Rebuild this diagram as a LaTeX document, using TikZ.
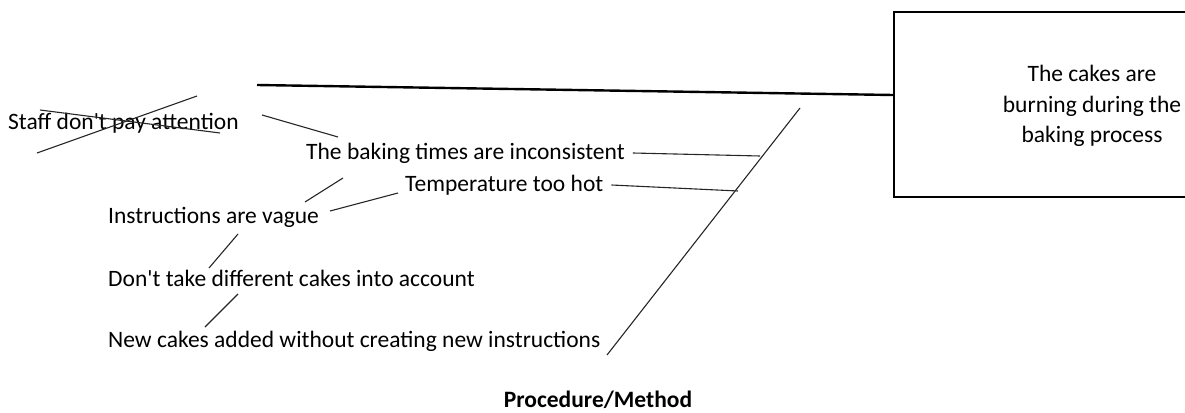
\documentclass[tikz,border=0pt]{standalone}
\usepackage{fontspec}
\setmainfont{Carlito}
\usepackage{tikz}
\usetikzlibrary{positioning}

\tikzset{
    cause/.style={anchor=west, inner sep=0pt, font=\fontsize{23.5}{28}\selectfont},
    bone/.style={draw, line width=1.1pt, black!85}
}

\begin{document}
\begin{tikzpicture}[x=1pt, y=-1pt]
            \useasboundingbox (0, 0) rectangle (1185, 412);
            % effect
            \node[draw, line width=2.2pt, minimum width=300pt, minimum height=185pt, anchor=north west] (effect) at (893, 11) {};
            \node[align=center, font=\fontsize{23.5}{30.5}\selectfont] (effecttext) at (1092, 106) {The cakes are\\ burning during the\\ baking process};
            \coordinate (spinestart) at (257, 85);
            \coordinate (spineend) at (893, 95);
            \draw[line width=2.4pt] (spinestart) -- (spineend);
            % main bone
            \coordinate (bonetop) at (800, 108);
            \coordinate (bonebottom) at (607, 355);
            \draw[bone] (bonetop) -- (bonebottom);
            % causes
            \node[cause] (staff) at (8, 123) {Staff don\textquotesingle t pay attention};
            \node[cause] (baking) at (306, 153) {The baking times are inconsistent};
            \node[cause] (temp) at (405, 185) {Temperature too hot};
            \node[cause] (vague) at (108, 217) {Instructions are vague};
            \node[cause] (different) at (108, 278) {Don\textquotesingle t take different cakes into account};
            \node[cause] (newcakes) at (108, 341) {New cakes added without creating new instructions};
            \node[font=\fontsize{23.5}{28}\selectfont\bfseries, inner sep=0pt] (category) at (598, 400) {Procedure/Method};
            % branches
            \coordinate (bakingjoin) at (760, 156);
            \coordinate (tempjoin) at (738, 191);
            \draw[bone] ([xshift=8pt]baking.east) -- (bakingjoin);
            \draw[bone] ([xshift=8pt]temp.east) -- (tempjoin);
            \coordinate (staffa) at (262, 115);
            \coordinate (staffb) at (338, 137);
            \draw[bone] (staffa) -- (staffb);
            \coordinate (vaguea) at (305, 202);
            \coordinate (vagueb) at (343, 178);
            \draw[bone] (vaguea) -- (vagueb);
            \coordinate (vaguec) at (330, 211);
            \coordinate (vagued) at (398, 193);
            \draw[bone] (vaguec) -- (vagued);
            \coordinate (diffa) at (238, 234);
            \coordinate (diffb) at (209, 268);
            \draw[bone] (diffa) -- (diffb);
            \coordinate (newa) at (238, 294);
            \coordinate (newb) at (205, 327);
            \draw[bone] (newa) -- (newb);
            % crossed out
            \coordinate (crossa) at (37, 153);
            \coordinate (crossb) at (197, 96);
            \coordinate (crossc) at (40, 110);
            \coordinate (crossd) at (220, 133);
            \draw[bone] (crossa) -- (crossb);
            \draw[bone] (crossc) -- (crossd);
        \end{tikzpicture}
\end{document}
